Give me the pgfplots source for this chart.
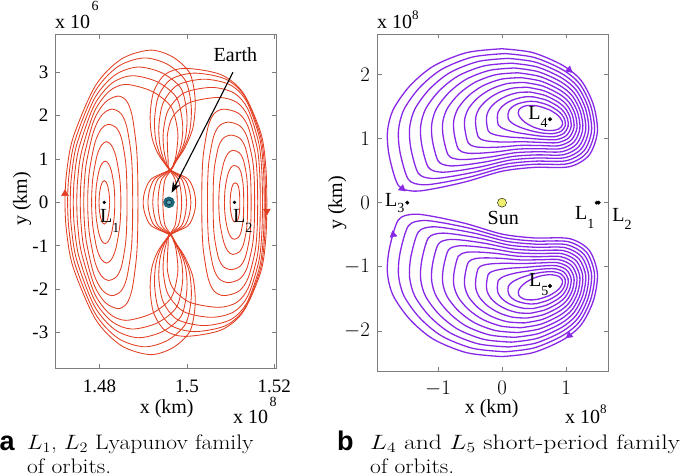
\documentclass[border=0pt]{standalone}
\usepackage{pgfplots}
\pgfplotsset{compat=1.18}
\usepackage{fontspec}
\newfontfamily\tnr{Liberation Serif}
\newfontfamily\hel{Liberation Sans}
\usetikzlibrary{arrows.meta}
\definecolor{orb}{RGB}{226,62,34}
\definecolor{purp}{RGB}{136,40,230}
\definecolor{axgray}{RGB}{125,125,125}
\definecolor{earthc}{RGB}{30,105,125}
\definecolor{earthl}{RGB}{95,170,190}
\definecolor{sunc}{RGB}{240,240,110}
\pgfplotsset{
  orbL/.style={color=orb, line width=0.85pt, smooth},
  orbR/.style={color=purp, line width=1.3pt, smooth},
}
\newcommand{\lhalf}[1]{%
  \addplot[orbL] table[row sep=\\]{u y\\#1};
  \addplot[orbL] table[row sep=\\, y expr=-\thisrow{y}]{u y\\#1};}
\newcommand{\lorb}[1]{%
  \addplot[orbR] table[row sep=\\]{x y\\#1};
  \addplot[orbR] table[row sep=\\, y expr=-\thisrow{y}]{x y\\#1};}
\newcommand{\tf}{\tnr\fontsize{20}{20}\selectfont}
\newcommand{\sub}[2]{\raisebox{-#1}{\fontsize{14}{14}\selectfont #2}}
\begin{document}
\begin{tikzpicture}
\useasboundingbox (0,0) rectangle (685pt,-476pt);
% ---------------- left panel ----------------
\begin{axis}[
  at={(55pt,-368.5pt)}, anchor=south west, scale only axis,
  width=221pt, height=334pt,
  xmin=-10.18, xmax=40.39, ymin=-3.83, ymax=3.87,
  xtick={0,20,40}, xticklabels={1.48,1.5,1.52},
  ytick={-3,-2,-1,0,1,2,3}, yticklabels={-3,-2,-1,0,1,2,3},
  axis line style={draw=axgray, line width=0.6pt},
  tick style={draw=axgray, line width=0.6pt},
  major tick length=4.5pt,
  tick label style={font=\tnr\fontsize{19}{19}\selectfont},
  xticklabel style={anchor=north, inner sep=0pt, yshift=-11pt},
  yticklabel style={anchor=east, inner sep=0pt, xshift=-6.5pt},
  clip=false,
]
% L1 family (u = (x-1.48e8)/1e5 km, y in 1e6 km)
\lhalf{-0.10 0\\ -0.08 0.09\\ 0.01 0.21\\ 0.33 0.38\\ 0.69 0.47\\ 1.10 0.50\\ 1.51 0.47\\ 1.87 0.38\\ 2.19 0.21\\ 2.28 0.09\\ 2.30 0\\}
\lhalf{-0.9 0\\ -0.867 0.165\\ -0.693 0.402\\ -0.115 0.728\\ 0.548 0.893\\ 1.3 0.95\\ 2.052 0.893\\ 2.715 0.728\\ 3.293 0.402\\ 3.467 0.165\\ 3.5 0\\}
\lhalf{-1.8 0\\ -1.749 0.244\\ -1.48 0.592\\ -0.586 1.072\\ 0.437 1.316\\ 1.6 1.4\\ 2.729 1.316\\ 3.722 1.072\\ 4.59 0.592\\ 4.851 0.244\\ 4.9 0\\}
\lhalf{-2.7 0\\ -2.63 0.313\\ -2.258 0.761\\ -1.022 1.379\\ 0.393 1.692\\ 2.0 1.8\\ 3.883 1.715\\ 5.062 1.467\\ 5.986 0.929\\ 6.248 0.468\\ 6.3 0\\}
\lhalf{-3.6 0\\ -3.504 0.374\\ -2.998 0.909\\ -1.315 1.647\\ 0.611 2.021\\ 2.8 2.15\\ 4.902 2.049\\ 6.218 1.752\\ 7.25 1.109\\ 7.542 0.559\\ 7.6 0\\}
\lhalf{-4.4 0\\ -4.271 0.426\\ -3.592 1.036\\ -1.33 1.877\\ 1.259 2.303\\ 4.2 2.45\\ 6.215 2.335\\ 7.475 1.997\\ 8.464 1.264\\ 8.745 0.637\\ 8.8 0\\}
\lhalf{-5.2 0\\ -5.032 0.473\\ -4.147 1.151\\ -1.202 2.084\\ 2.17 2.557\\ 6.0 2.72\\ 12.0 2.56\\ 16.4 2.2\\ 17.9 1.64\\ 17.7 1.22\\ 17.2 0.95\\ 16.2 0.76\\ 11.85 0.54\\ 10.38 0.26\\ 10.03 0.066\\ 10.0 0\\}
\lhalf{-6 0\\ -5.799 0.508\\ -4.74 1.235\\ -1.216 2.237\\ 2.817 2.745\\ 7.4 2.92\\ 13.2 2.78\\ 17.6 2.42\\ 19.0 1.84\\ 18.8 1.38\\ 17.8 1.05\\ 16.9 0.88\\ 16.35 0.76\\ 12.62 0.54\\ 11.41 0.26\\ 11.12 0.066\\ 11.1 0\\}
\lhalf{-6.7 0\\ -6.468 0.543\\ -5.243 1.32\\ -1.167 2.39\\ 3.499 2.933\\ 8.8 3.12\\ 14.4 2.98\\ 18.7 2.62\\ 20.0 2.02\\ 19.7 1.5\\ 18.4 1.12\\ 17.1 0.91\\ 16.4 0.76\\ 13.4 0.54\\ 12.45 0.26\\ 12.22 0.066\\ 12.2 0\\}
\lhalf{-7.3 0\\ -7.038 0.579\\ -5.655 1.409\\ -1.053 2.551\\ 4.215 3.13\\ 10.2 3.33\\ 15.6 3.18\\ 19.7 2.8\\ 21.0 2.2\\ 20.6 1.62\\ 19.0 1.2\\ 17.4 0.94\\ 16.45 0.76\\ 14.25 0.54\\ 13.57 0.26\\ 13.41 0.066\\ 13.4 0\\}
\lhalf{-7.9 0\\ -7.608 0.611\\ -6.067 1.485\\ -0.939 2.689\\ 4.931 3.299\\ 11.6 3.51\\ 16.8 3.35\\ 20.7 2.97\\ 21.9 2.35\\ 21.4 1.73\\ 19.6 1.27\\ 17.7 0.97\\ 16.5 0.76\\ 15.03 0.54\\ 14.61 0.26\\ 14.51 0.066\\ 14.5 0\\}
% L2 family
\lhalf{29.9 0\\ 29.916 0.078\\ 30.003 0.19\\ 30.293 0.345\\ 30.624 0.423\\ 31.0 0.45\\ 31.482 0.429\\ 31.783 0.367\\ 32.02 0.232\\ 32.087 0.117\\ 32.1 0\\}
\lhalf{28.6 0\\ 28.633 0.148\\ 28.807 0.36\\ 29.385 0.651\\ 30.048 0.799\\ 30.8 0.85\\ 31.764 0.81\\ 32.366 0.693\\ 32.839 0.439\\ 32.974 0.221\\ 33.0 0\\}
\lhalf{27.3 0\\ 27.348 0.209\\ 27.601 0.508\\ 28.442 0.919\\ 29.406 1.128\\ 30.5 1.2\\ 31.989 1.144\\ 32.921 0.978\\ 33.652 0.619\\ 33.859 0.312\\ 33.9 0\\}
\lhalf{26 0\\ 26.049 0.403\\ 26.299 0.8\\ 27.181 1.263\\ 28.304 1.477\\ 30.1 1.55\\ 32.115 1.477\\ 33.375 1.263\\ 34.364 0.8\\ 34.645 0.403\\ 34.7 0\\}
\lhalf{24.7 0\\ 24.758 0.481\\ 25.05 0.955\\ 26.082 1.508\\ 27.398 1.763\\ 29.5 1.85\\ 32.128 1.763\\ 33.772 1.508\\ 35.062 0.955\\ 35.428 0.481\\ 35.5 0\\}
\lhalf{23.4 0\\ 23.461 0.559\\ 23.772 1.109\\ 24.869 1.752\\ 26.266 2.049\\ 28.5 2.15\\ 31.873 2.049\\ 33.982 1.752\\ 35.638 1.109\\ 36.108 0.559\\ 36.2 0\\}
\lhalf{22.0 0\\ 21.97 0.066\\ 21.64 0.26\\ 20.24 0.54\\ 16.1 0.76\\ 15.7 1.0\\ 15.55 1.3\\ 15.6 1.6\\ 16.8 1.98\\ 20.6 2.3\\ 27.2 2.42\\ 31.405 2.306\\ 34.035 1.972\\ 36.099 1.249\\ 36.685 0.629\\ 36.8 0\\}
\lhalf{20.9 0\\ 20.88 0.066\\ 20.61 0.26\\ 19.46 0.54\\ 16.05 0.76\\ 15.2 0.98\\ 14.7 1.24\\ 14.6 1.62\\ 15.7 2.12\\ 19.3 2.52\\ 25.6 2.65\\ 30.725 2.525\\ 33.93 2.16\\ 36.446 1.367\\ 37.16 0.689\\ 37.3 0\\}
\lhalf{19.9 0\\ 19.88 0.066\\ 19.67 0.26\\ 18.76 0.54\\ 16.0 0.76\\ 14.6 1.02\\ 13.8 1.33\\ 13.6 1.78\\ 14.6 2.3\\ 17.8 2.7\\ 23.9 2.84\\ 29.944 2.707\\ 33.726 2.315\\ 36.693 1.465\\ 37.534 0.738\\ 37.7 0\\}
\lhalf{18.8 0\\ 18.79 0.066\\ 18.63 0.26\\ 17.98 0.54\\ 15.95 0.76\\ 14.0 1.07\\ 12.9 1.42\\ 12.6 1.9\\ 13.5 2.45\\ 16.4 2.84\\ 21.8 2.98\\ 28.896 2.84\\ 33.334 2.429\\ 36.817 1.538\\ 37.806 0.775\\ 38.0 0\\}
\lhalf{17.8 0\\ 17.79 0.066\\ 17.69 0.26\\ 17.27 0.54\\ 15.9 0.76\\ 13.4 1.12\\ 12.0 1.5\\ 11.6 2.0\\ 12.4 2.55\\ 15.0 2.95\\ 19.6 3.09\\ 27.791 2.945\\ 32.914 2.518\\ 36.935 1.594\\ 38.076 0.803\\ 38.3 0\\}
% arrows, points, Earth
\addplot[only marks, mark=triangle*, mark size=4pt, color=orb] coordinates {(-7.9,0.2)};
\addplot[only marks, mark=triangle*, mark size=4pt, color=orb, mark options={rotate=180}] coordinates {(38.3,-0.2)};
\addplot[only marks, mark=*, mark size=1.5pt, black] coordinates {(1.1,0) (30.9,0)};
\addplot[only marks, mark=*, mark size=5.5pt, mark options={fill=earthc, draw=earthc!80!black}] coordinates {(15.9,0)};
\addplot[only marks, mark=*, mark size=2.4pt, mark options={fill=earthl, draw=none}] coordinates {(15.9,0)};
\node[anchor=base west, inner sep=0pt, font=\tf] at (axis cs:0.11,-0.456) {L\sub{10pt}{1}};
\node[anchor=base west, inner sep=0pt, font=\tf] at (axis cs:30.55,-0.456) {L\sub{10pt}{2}};
\node[anchor=base, inner sep=0pt, font=\tf] at (axis cs:31.1,3.24) {Earth};
\draw[-{Stealth[length=11pt,width=8pt]}, line width=1.1pt] (axis cs:30.55,3.0) -- (axis cs:16.5,0.22);
\end{axis}
% ---------------- right panel ----------------
\begin{axis}[
  at={(377pt,-371pt)}, anchor=south west, scale only axis,
  width=231pt, height=337pt,
  xmin=-1.953, xmax=1.656, ymin=-2.625, ymax=2.63,
  xtick={-1,0,1}, ytick={-2,-1,0,1,2},
  axis line style={draw=axgray, line width=0.6pt},
  tick style={draw=axgray, line width=0.6pt},
  major tick length=4.5pt,
  tick label style={font=\fontsize{20}{20}\selectfont},
  xticklabel style={anchor=north, inner sep=0pt, yshift=-9.7pt},
  yticklabel style={anchor=east, inner sep=0pt, xshift=-7pt},
  clip=false,
]
% L4 short-period family (x, y in 1e8 km); L5 family is its mirror image
\lorb{0.593 1.499\\ 0.74 1.448\\ 0.861 1.372\\ 0.91 1.321\\ 0.94 1.27\\ 0.942 1.208\\ 0.888 1.15\\ 0.779 1.124\\ 0.637 1.135\\ 0.488 1.18\\ 0.36 1.252\\ 0.29 1.319\\ 0.26 1.37\\ 0.254 1.402\\ 0.264 1.446\\ 0.284 1.47\\ 0.33 1.498\\ 0.396 1.514\\ 0.475 1.516\\ 0.533 1.511\\ 0.593 1.499\\}
\lorb{0.544 1.574\\ 0.718 1.522\\ 0.868 1.436\\ 0.938 1.369\\ 0.981 1.291\\ 0.988 1.199\\ 0.927 1.116\\ 0.802 1.077\\ 0.626 1.086\\ 0.447 1.123\\ 0.284 1.175\\ 0.178 1.227\\ 0.123 1.271\\ 0.098 1.308\\ 0.095 1.386\\ 0.111 1.439\\ 0.161 1.494\\ 0.243 1.54\\ 0.346 1.567\\ 0.443 1.58\\ 0.544 1.574\\}
\lorb{0.494 1.649\\ 0.697 1.597\\ 0.876 1.5\\ 0.965 1.418\\ 1.022 1.312\\ 1.033 1.19\\ 0.967 1.082\\ 0.824 1.03\\ 0.614 1.037\\ 0.407 1.065\\ 0.208 1.098\\ 0.067 1.136\\ -0.013 1.172\\ -0.058 1.213\\ -0.073 1.325\\ -0.062 1.408\\ -0.008 1.49\\ 0.09 1.565\\ 0.217 1.618\\ 0.352 1.649\\ 0.494 1.649\\}
\lorb{0.445 1.724\\ 0.675 1.671\\ 0.883 1.564\\ 0.993 1.466\\ 1.062 1.332\\ 1.079 1.181\\ 1.006 1.047\\ 0.847 0.983\\ 0.603 0.989\\ 0.366 1.008\\ 0.133 1.022\\ -0.045 1.044\\ -0.15 1.072\\ -0.215 1.119\\ -0.242 1.265\\ -0.234 1.378\\ -0.178 1.486\\ -0.063 1.591\\ 0.089 1.67\\ 0.262 1.718\\ 0.445 1.724\\}
\lorb{0.395 1.799\\ 0.653 1.745\\ 0.891 1.628\\ 1.02 1.514\\ 1.103 1.353\\ 1.125 1.172\\ 1.045 1.013\\ 0.869 0.936\\ 0.591 0.94\\ 0.325 0.95\\ 0.057 0.945\\ -0.157 0.953\\ -0.287 0.973\\ -0.371 1.025\\ -0.411 1.204\\ -0.407 1.347\\ -0.347 1.482\\ -0.216 1.616\\ -0.04 1.721\\ 0.172 1.787\\ 0.395 1.799\\}
\lorb{0.346 1.875\\ 0.632 1.82\\ 0.898 1.692\\ 1.048 1.563\\ 1.144 1.374\\ 1.171 1.163\\ 1.085 0.979\\ 0.892 0.889\\ 0.58 0.891\\ 0.285 0.893\\ -0.019 0.868\\ -0.268 0.861\\ -0.424 0.874\\ -0.527 0.93\\ -0.58 1.144\\ -0.58 1.316\\ -0.516 1.478\\ -0.369 1.642\\ -0.169 1.772\\ 0.082 1.857\\ 0.346 1.875\\}
\lorb{0.297 1.95\\ 0.61 1.894\\ 0.905 1.756\\ 1.075 1.611\\ 1.185 1.395\\ 1.216 1.154\\ 1.124 0.945\\ 0.915 0.842\\ 0.569 0.842\\ 0.244 0.835\\ -0.095 0.791\\ -0.38 0.77\\ -0.56 0.775\\ -0.683 0.836\\ -0.748 1.083\\ -0.753 1.285\\ -0.685 1.474\\ -0.522 1.667\\ -0.298 1.823\\ -0.009 1.926\\ 0.297 1.95\\}
\lorb{0.247 2.025\\ 0.588 1.968\\ 0.913 1.82\\ 1.103 1.659\\ 1.226 1.416\\ 1.262 1.145\\ 1.163 0.911\\ 0.937 0.795\\ 0.557 0.794\\ 0.203 0.778\\ -0.171 0.714\\ -0.492 0.678\\ -0.697 0.676\\ -0.839 0.742\\ -0.917 1.023\\ -0.926 1.254\\ -0.854 1.47\\ -0.675 1.693\\ -0.427 1.874\\ -0.099 1.995\\ 0.247 2.025\\}
\lorb{0.198 2.1\\ 0.566 2.042\\ 0.92 1.884\\ 1.13 1.707\\ 1.266 1.436\\ 1.308 1.136\\ 1.202 0.876\\ 0.96 0.748\\ 0.546 0.745\\ 0.163 0.72\\ -0.246 0.638\\ -0.604 0.586\\ -0.834 0.576\\ -0.996 0.648\\ -1.086 0.962\\ -1.098 1.224\\ -1.024 1.466\\ -0.828 1.718\\ -0.556 1.926\\ -0.189 2.064\\ 0.198 2.1\\}
\lorb{0.148 2.175\\ 0.545 2.117\\ 0.928 1.948\\ 1.158 1.756\\ 1.307 1.457\\ 1.353 1.127\\ 1.242 0.842\\ 0.982 0.701\\ 0.534 0.696\\ 0.122 0.663\\ -0.322 0.561\\ -0.715 0.495\\ -0.97 0.477\\ -1.152 0.553\\ -1.254 0.902\\ -1.271 1.193\\ -1.193 1.462\\ -0.981 1.744\\ -0.684 1.977\\ -0.28 2.133\\ 0.148 2.175\\}
\lorb{0.099 2.25\\ 0.523 2.191\\ 0.935 2.012\\ 1.185 1.804\\ 1.348 1.478\\ 1.399 1.118\\ 1.281 0.808\\ 1.005 0.654\\ 0.523 0.647\\ 0.081 0.605\\ -0.398 0.484\\ -0.827 0.403\\ -1.107 0.378\\ -1.308 0.459\\ -1.423 0.841\\ -1.444 1.162\\ -1.362 1.458\\ -1.134 1.769\\ -0.813 2.028\\ -0.37 2.202\\ 0.099 2.25\\}
\lorb{0.05 2.325\\ 0.501 2.265\\ 0.942 2.076\\ 1.213 1.852\\ 1.389 1.499\\ 1.445 1.109\\ 1.321 0.774\\ 1.028 0.607\\ 0.511 0.599\\ 0.041 0.548\\ -0.474 0.407\\ -0.939 0.312\\ -1.244 0.279\\ -1.464 0.364\\ -1.592 0.781\\ -1.617 1.131\\ -1.531 1.454\\ -1.287 1.795\\ -0.942 2.079\\ -0.46 2.271\\ 0.05 2.325\\}
\lorb{0 2.4\\ 0.48 2.34\\ 0.95 2.14\\ 1.24 1.9\\ 1.43 1.52\\ 1.49 1.1\\ 1.36 0.74\\ 1.05 0.56\\ 0.5 0.55\\ 0 0.49\\ -0.55 0.33\\ -1.05 0.22\\ -1.38 0.18\\ -1.62 0.27\\ -1.76 0.72\\ -1.79 1.1\\ -1.7 1.45\\ -1.44 1.82\\ -1.07 2.13\\ -0.55 2.34\\ 0 2.4\\}
% arrows
\addplot[only marks, mark=triangle*, mark size=4pt, color=purp, mark options={rotate=-130}] coordinates {(1.05,2.07)};
\addplot[only marks, mark=triangle*, mark size=4pt, color=purp, mark options={rotate=110}] coordinates {(-1.56,0.22)};
\addplot[only marks, mark=triangle*, mark size=4pt, color=purp, mark options={rotate=10}] coordinates {(-1.70,-0.5)};
\addplot[only marks, mark=triangle*, mark size=4pt, color=purp, mark options={rotate=130}] coordinates {(1.05,-2.07)};
% points
\addplot[only marks, mark=*, mark size=4.5pt, mark options={fill=sunc, draw=none}] coordinates {(0,0)};
\addplot[only marks, mark=*, mark size=1.8pt, black] coordinates {(-1.48,0) (0.75,1.3) (0.75,-1.3) (1.48,0) (1.51,0)};
\node[anchor=base west, inner sep=0pt, font=\tf] at (axis cs:-1.83,-0.06) {L\sub{6pt}{3}};
\node[anchor=base west, inner sep=0pt, font=\tf] at (axis cs:1.14,-0.27) {L\sub{9pt}{1}};
\node[anchor=base west, inner sep=0pt, font=\tf] at (axis cs:1.72,-0.30) {L\sub{8pt}{2}};
\node[anchor=base west, inner sep=0pt, font=\tf] at (axis cs:0.41,1.30) {L\sub{8pt}{4}};
\node[anchor=base west, inner sep=0pt, font=\tf] at (axis cs:0.42,-1.30) {L\sub{9pt}{5}};
\node[anchor=base, inner sep=0pt, font=\tf] at (axis cs:0.02,-0.344) {Sun};
\end{axis}
% ---------------- axis texts ----------------
\node[anchor=base west, inner sep=0pt, font=\tf] at (55pt,-28.3pt) {x 10\hspace{1.5pt}\raisebox{18pt}{\fontsize{14}{14}\selectfont 6}};
\node[anchor=base west, inner sep=0pt, font=\tf] at (233pt,-423pt) {x 10\hspace{1.5pt}\raisebox{16.5pt}{\fontsize{14}{14}\selectfont 8}};
\node[anchor=base west, inner sep=0pt, font=\tf] at (377pt,-28.3pt) {x 10\raisebox{8.5pt}{\fontsize{13}{13}\selectfont 8}};
\node[anchor=base west, inner sep=0pt, font=\tf] at (565pt,-423pt) {x 10\raisebox{10pt}{\fontsize{13}{13}\selectfont 8}};
\node[anchor=base, inner sep=0pt, font=\tf, rotate=90] at (27pt,-199pt) {y (km)};
\node[anchor=base, inner sep=0pt, font=\tf, rotate=90] at (342pt,-203pt) {y (km)};
\node[anchor=base, inner sep=0pt, font=\tf] at (166.7pt,-413pt) {x (km)};
\node[anchor=base, inner sep=0pt, font=\tf] at (491.7pt,-413pt) {x (km)};
% ---------------- captions ----------------
\node[anchor=base west, inner sep=0pt, font=\hel\bfseries\fontsize{27}{27}\selectfont] at (-0.5pt,-450pt) {a};
\node[anchor=base west, inner sep=0pt] at (27pt,-449.5pt) {\scalebox{1.12}[1]{\fontsize{21}{21}\selectfont $L_1$, $L_2$ Lyapunov family}};
\node[anchor=base west, inner sep=0pt] at (27pt,-473pt) {\scalebox{1.12}[1]{\fontsize{21}{21}\selectfont of orbits.}};
\node[anchor=base west, inner sep=0pt, font=\hel\bfseries\fontsize{27}{27}\selectfont] at (337pt,-450pt) {b};
\node[anchor=base west, inner sep=0pt] at (370pt,-449.5pt) {\scalebox{1.22}[1]{\fontsize{21}{21}\selectfont $L_4$ and $L_5$ short-period family}};
\node[anchor=base west, inner sep=0pt] at (370pt,-473pt) {\scalebox{1.12}[1]{\fontsize{21}{21}\selectfont of orbits.}};
\end{tikzpicture}
\end{document}
